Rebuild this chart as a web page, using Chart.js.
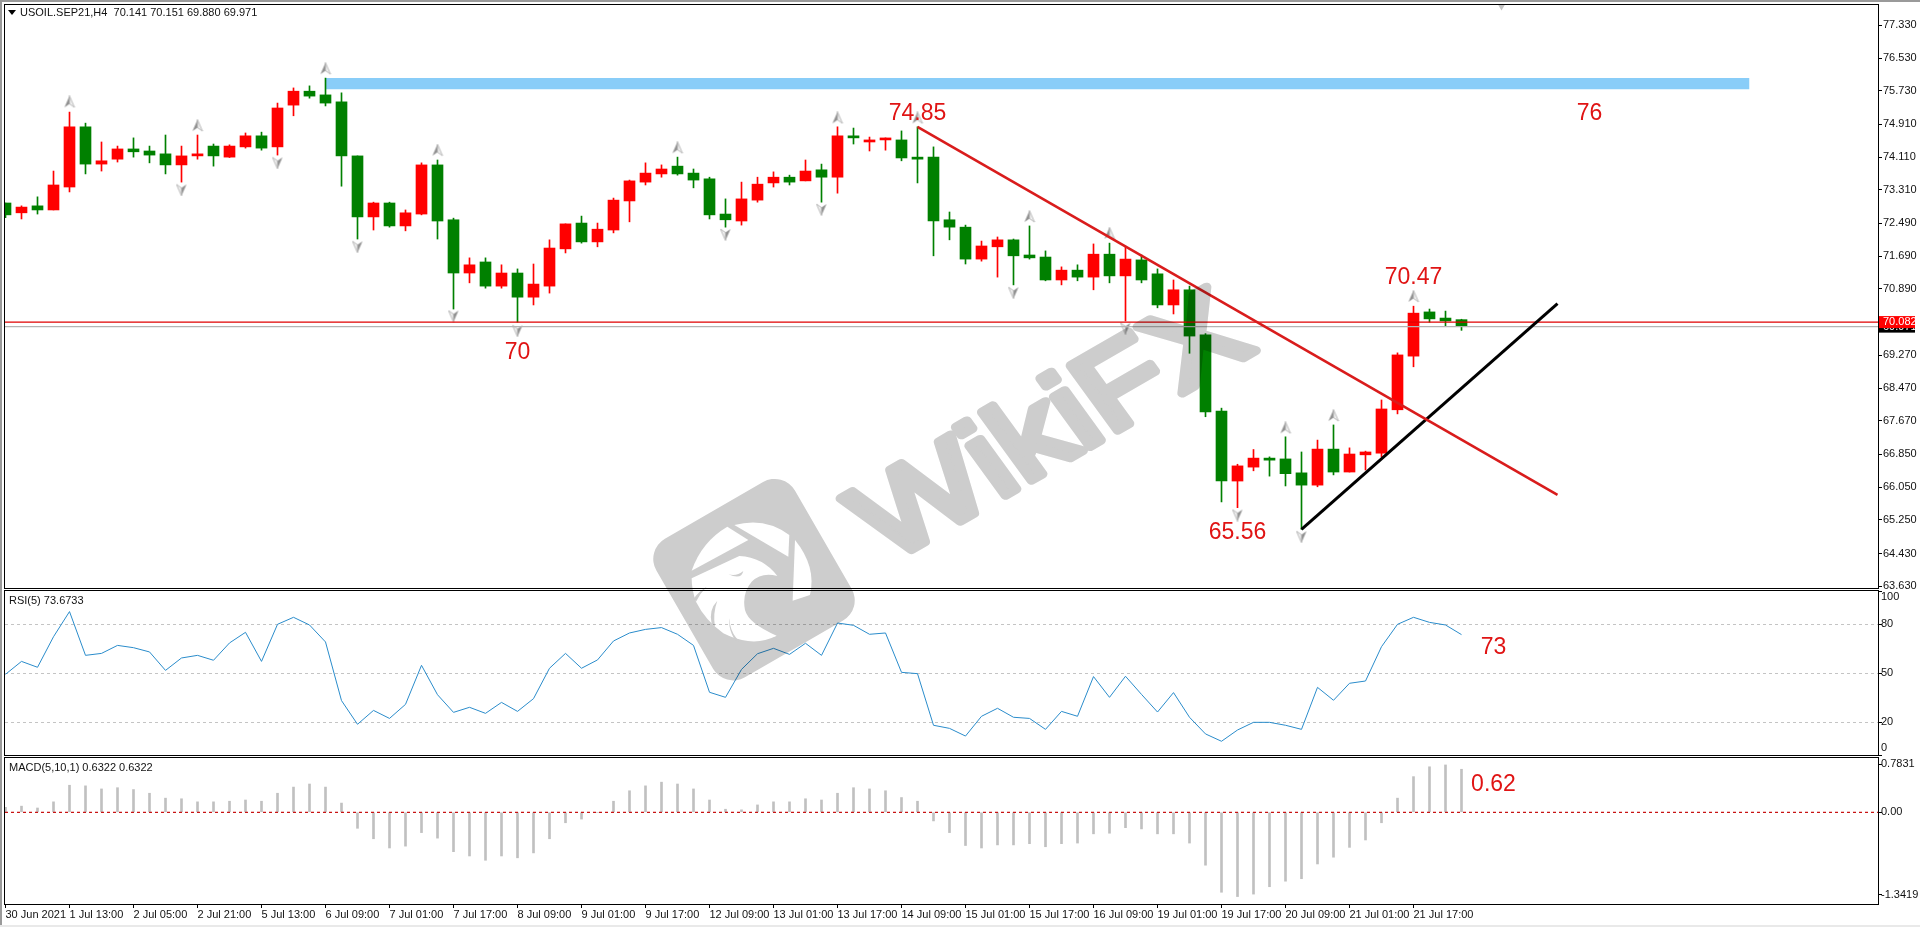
<!DOCTYPE html>
<html>
<head>
<meta charset="utf-8">
<title>USOIL.SEP21,H4</title>
<script src="https://cdn.jsdelivr.net/npm/chart.js@4/dist/chart.umd.min.js"></script>
<style>
    html, body { margin: 0; padding: 0; width: 1920px; height: 927px; overflow: hidden; background: #ffffff; }
    canvas { position: absolute; left: 0; }
    #priceChart { top: 0; }
    #rsiChart { top: 589px; }
    #macdChart { top: 756px; }
    .edge { position: absolute; }
    #edgeTop { left: 0; top: 0; width: 1920px; height: 2px; background: #9a9a9a; }
    #edgeLeft { left: 0; top: 0; width: 2px; height: 927px; background: #9a9a9a; }
    #edgeBottom { left: 0; top: 925px; width: 1920px; height: 2px; background: #e9e9e9; }
    .caption { position: absolute; font: 11px "Liberation Sans Narrow", "Liberation Sans", sans-serif; color: #111; white-space: pre; line-height: 12px; }
    #captionArrow { position: absolute; left: 8px; top: 10px; width: 0; height: 0; border-left: 4px solid transparent; border-right: 4px solid transparent; border-top: 5px solid #000; }
    #watermark { position: absolute; left: 0; top: 0; mix-blend-mode: multiply; pointer-events: none; }
</style>
</head>
<body>
<canvas id="priceChart" width="1920" height="592"></canvas>
<canvas id="rsiChart" width="1920" height="170"></canvas>
<canvas id="macdChart" width="1920" height="171"></canvas>

<div id="captionArrow"></div>
<div class="caption" style="left:20px;top:6px">USOIL.SEP21,H4  70.141 70.151 69.880 69.971</div>
<div class="caption" style="left:9px;top:594px">RSI(5) 73.6733</div>
<div class="caption" style="left:9px;top:761px">MACD(5,10,1) 0.6322 0.6322</div>

<svg id="watermark" width="1920" height="927" viewBox="0 0 1920 927">
    <text transform="translate(887.5 563.5) rotate(-30) skewX(6)" textLength="428" lengthAdjust="spacingAndGlyphs"
          font-family="Liberation Sans" font-size="116" fill="#cdcdcd" stroke="#cdcdcd"
          stroke-width="9" stroke-linejoin="round" stroke-linecap="round">WikiFX</text>
    <g transform="translate(640 470) scale(0.3333)">
        <rect x="102" y="89" width="480" height="480" rx="70" transform="rotate(-30 342 329)" fill="#cdcdcd"/>
        <path fill="#fff" d="M262 170 L325 210 L155 302 Q185 215 262 170 Z"/>
        <path fill="#fff" d="M283 165 Q375 140 448 195 L445 260 Z"/>
        <path fill="#fff" d="M465 210 Q530 290 510 375 L458 392 Z"/>
        <path fill="#fff" d="M155 325 L298 258 Q370 262 412 318 Q365 305 335 335 Q305 370 315 420 Q325 460 410 497 Q340 535 250 490 Q195 450 168 395 Q155 360 155 325 Z"/>
        <path fill="#cdcdcd" d="M232 392 Q205 420 215 462 L225 470 Q218 430 232 392 Z"/>
        <path fill="#cdcdcd" d="M268 445 Q270 490 300 515 L285 510 Q265 480 268 445 Z"/>
        <path fill="#cdcdcd" d="M200 350 Q175 365 162 385 L168 395 Q180 370 200 350 Z"/>
        <path fill="#cdcdcd" d="M265 313 Q290 320 310 303 Q305 330 265 313 Z"/>
    </g>
</svg>

<div class="edge" id="edgeTop"></div>
<div class="edge" id="edgeLeft"></div>
<div class="edge" id="edgeBottom"></div>

<script>
// =========================================
// Data
// =========================================
const opens = [
    72.99, 72.75, 72.92, 72.82, 73.38, 74.85, 73.94, 74.06, 74.31, 74.26,
    74.19, 73.92, 74.14, 74.38, 74.11, 74.36, 74.63, 74.36, 75.38, 75.72,
    75.63, 75.46, 74.14, 72.65, 72.99, 72.43, 72.72, 73.92, 72.58, 71.28,
    71.55, 70.96, 71.28, 70.69, 70.96, 71.87, 72.50, 72.04, 72.33, 73.04,
    73.50, 73.70, 73.89, 73.72, 73.58, 72.72, 72.55, 73.06, 73.48, 73.62,
    73.53, 73.80, 73.62, 74.63, 74.48, 74.53, 74.53, 74.11, 74.11, 72.58,
    72.40, 71.62, 71.92, 72.09, 71.72, 71.67, 71.11, 71.35, 71.18, 71.74,
    71.21, 71.60, 71.26, 70.50, 70.87, 69.77, 67.91, 66.20, 66.54, 66.76,
    66.74, 66.40, 66.10, 66.98, 66.42, 66.84, 66.88, 67.94, 69.25, 70.33,
    70.18, 70.141,
];
const highs = [
    72.99, 72.92, 73.14, 73.77, 75.21, 74.94, 74.48, 74.38, 74.58, 74.38,
    74.65, 74.38, 74.65, 74.43, 74.41, 74.70, 74.72, 75.43, 75.80, 75.85,
    76.04, 75.68, 74.14, 73.01, 73.01, 72.82, 73.97, 74.04, 72.62, 71.65,
    71.65, 71.48, 71.38, 71.50, 72.09, 72.48, 72.67, 72.50, 73.11, 73.55,
    73.97, 73.92, 74.11, 73.82, 73.62, 73.09, 73.50, 73.62, 73.75, 73.67,
    74.04, 73.94, 74.85, 74.82, 74.60, 74.58, 74.75, 74.85, 74.36, 72.77,
    72.45, 72.06, 72.16, 72.11, 72.43, 71.82, 71.43, 71.48, 71.99, 72.01,
    71.92, 71.72, 71.38, 71.11, 70.96, 69.80, 67.98, 66.61, 66.97, 66.79,
    67.28, 66.91, 67.20, 67.57, 67.01, 66.93, 68.18, 69.33, 70.47, 70.40,
    70.35, 70.151,
];
const lows = [
    72.63, 72.60, 72.72, 72.82, 73.26, 73.70, 73.77, 73.99, 74.11, 73.97,
    73.70, 73.50, 74.06, 73.89, 74.10, 74.33, 74.28, 74.16, 75.12, 75.55,
    75.36, 73.40, 72.11, 72.33, 72.40, 72.31, 72.70, 72.11, 70.40, 71.04,
    70.91, 70.91, 70.08, 70.50, 70.79, 71.77, 72.01, 71.92, 72.26, 72.53,
    73.43, 73.62, 73.67, 73.36, 72.60, 72.40, 72.45, 73.01, 73.38, 73.43,
    73.53, 73.01, 73.23, 74.43, 74.26, 74.28, 74.02, 73.48, 71.70, 72.09,
    71.50, 71.57, 71.18, 70.99, 71.62, 71.09, 70.99, 71.09, 70.87, 71.04,
    70.11, 71.04, 70.43, 70.28, 69.32, 67.77, 65.69, 65.55, 66.45, 66.32,
    66.08, 65.02, 66.06, 66.35, 66.42, 66.47, 66.79, 67.84, 68.99, 70.08,
    69.99, 69.88,
];
const closes = [
    72.70, 72.89, 72.82, 73.43, 74.85, 73.94, 74.02, 74.31, 74.24, 74.16,
    73.92, 74.14, 74.19, 74.14, 74.38, 74.63, 74.33, 75.31, 75.72, 75.60,
    75.43, 74.14, 72.65, 72.99, 72.43, 72.75, 73.92, 72.55, 71.28, 71.48,
    70.96, 71.28, 70.69, 71.01, 71.89, 72.48, 72.04, 72.35, 73.06, 73.53,
    73.72, 73.82, 73.70, 73.55, 72.70, 72.58, 73.09, 73.45, 73.62, 73.50,
    73.77, 73.62, 74.63, 74.58, 74.53, 74.55, 74.09, 74.06, 72.55, 72.40,
    71.62, 71.94, 72.09, 71.70, 71.65, 71.11, 71.35, 71.18, 71.74, 71.21,
    71.62, 71.11, 70.50, 70.87, 69.74, 67.89, 66.20, 66.57, 66.76, 66.71,
    66.38, 66.10, 66.98, 66.42, 66.86, 66.91, 67.96, 69.28, 70.30, 70.16,
    70.11, 69.971,
];

const rsiValues = [
    49.4, 57.3, 53.7, 72.4, 87.8, 61.0, 62.2, 67.1, 65.7, 63.1,
    51.8, 59.4, 61.0, 58.0, 68.6, 75.1, 57.3, 80.0, 84.3, 79.6,
    69.2, 33.3, 18.8, 27.3, 22.4, 31.0, 54.9, 36.9, 26.1, 29.2,
    25.5, 32.2, 26.7, 34.5, 53.1, 62.2, 53.1, 58.2, 69.8, 74.7,
    76.9, 78.0, 73.9, 67.1, 38.4, 35.3, 52.4, 62.0, 65.3, 61.6,
    68.4, 61.0, 80.8, 79.4, 73.9, 74.7, 50.6, 49.8, 18.2, 16.3,
    11.6, 23.7, 28.6, 23.1, 22.4, 15.7, 26.7, 23.7, 48.0, 35.3,
    48.2, 37.1, 26.3, 38.2, 23.1, 12.9, 8.4, 15.3, 20.0, 20.0,
    18.2, 15.7, 41.4, 33.5, 43.9, 45.3, 66.3, 80.0, 84.3, 81.2,
    79.6, 73.7,
];

const macdValues = [
    0.08, 0.10, 0.07, 0.17, 0.44, 0.43, 0.38, 0.40, 0.37, 0.31,
    0.23, 0.22, 0.17, 0.17, 0.18, 0.20, 0.18, 0.31, 0.41, 0.46,
    0.41, 0.15, -0.26, -0.43, -0.58, -0.55, -0.33, -0.42, -0.64, -0.71,
    -0.78, -0.71, -0.74, -0.66, -0.43, -0.17, -0.11, 0.00, 0.18, 0.35,
    0.43, 0.49, 0.46, 0.38, 0.20, 0.05, 0.04, 0.12, 0.17, 0.17,
    0.22, 0.20, 0.31, 0.40, 0.38, 0.35, 0.24, 0.18, -0.14, -0.33,
    -0.54, -0.58, -0.53, -0.53, -0.51, -0.56, -0.51, -0.50, -0.35, -0.34,
    -0.25, -0.27, -0.35, -0.35, -0.50, -0.86, -1.30, -1.37, -1.33, -1.21,
    -1.12, -1.08, -0.84, -0.73, -0.57, -0.45, -0.17, 0.23, 0.58, 0.74,
    0.77, 0.70,
];

const timeLabels = [
    "30 Jun 2021", "1 Jul 13:00", "2 Jul 05:00", "2 Jul 21:00", "5 Jul 13:00", "6 Jul 09:00",
    "7 Jul 01:00", "7 Jul 17:00", "8 Jul 09:00", "9 Jul 01:00", "9 Jul 17:00", "12 Jul 09:00",
    "13 Jul 01:00", "13 Jul 17:00", "14 Jul 09:00", "15 Jul 01:00", "15 Jul 17:00", "16 Jul 09:00",
    "19 Jul 01:00", "19 Jul 17:00", "20 Jul 09:00", "21 Jul 01:00", "21 Jul 17:00",
];
const priceTicks = [
    77.33, 76.53, 75.73, 74.91, 74.11, 73.31, 72.49, 71.69, 70.89,
    69.27, 68.47, 67.67, 66.85, 66.05, 65.25, 64.43, 63.63,
];
const rsiTicks = [100, 80, 50, 20, 0];
const macdTicks = [0.7831, 0, -1.3419];

// fractal arrows, bar number and price
const upBars = [4, 12, 20, 27, 42, 52, 57, 64, 69, 80, 83, 88];
const upPrices = [75.46, 74.88, 76.27, 74.28, 74.34, 75.07, 75.07, 72.66, 72.25, 67.50, 67.80, 70.71];
const downBars = [11, 17, 22, 28, 32, 45, 51, 63, 70, 77, 81];
const downPrices = [73.31, 73.97, 71.92, 70.23, 69.87, 72.22, 72.83, 70.80, 69.93, 65.37, 64.84];

// objects drawn on the chart
const zoneBars = [20, 109];
const zonePrices = [76.04, 75.77];
const redTrendBars = [57, 97];
const redTrendPrices = [74.85, 65.86];
const blackTrendBars = [81, 97];
const blackTrendPrices = [65.02, 70.53];
const bidPrice = 70.082;
const lastPrice = 69.971;

// =========================================
// Shared settings
// =========================================
const AXIS_FONT = { family: "'Liberation Sans Narrow', 'Liberation Sans', sans-serif", size: 11 };
const NOTE_FONT = "23px 'Liberation Sans', sans-serif";
const NOTE_COLOR = "#e01414";
const X_MIN = -0.03125;
const X_MAX = 117.03125;
const UP_COLOR = "#ff0000";
const DOWN_COLOR = "#008000";

function barColors() {
    return closes.map((c, i) => (c >= opens[i] ? UP_COLOR : DOWN_COLOR));
}

function hLine(value, color, dash, width) {
    return {
        type: "line",
        data: [{ x: X_MIN, y: value }, { x: X_MAX, y: value }],
        borderColor: color,
        borderWidth: width || 1,
        borderDash: dash || [],
        pointRadius: 0,
        order: 1,
    };
}

function trend(bars, prices, color, width) {
    return {
        type: "line",
        data: bars.map((b, i) => ({ x: b, y: prices[i] })),
        borderColor: color,
        borderWidth: width,
        pointRadius: 0,
        order: 0,
    };
}

function makeArrow(up) {
    const c = document.createElement("canvas");
    c.width = 12;
    c.height = 13;
    const g = c.getContext("2d");
    if (!up) {
        g.translate(12, 13);
        g.rotate(Math.PI);
    }
    g.fillStyle = "#8f8f8f";
    g.beginPath();
    g.moveTo(6, 0.5);
    g.lineTo(1, 12);
    g.lineTo(6, 8.5);
    g.closePath();
    g.fill();
    g.fillStyle = "#f2f2f2";
    g.strokeStyle = "#aaaaaa";
    g.lineWidth = 0.8;
    g.beginPath();
    g.moveTo(6, 0.5);
    g.lineTo(11, 12);
    g.lineTo(6, 8.5);
    g.closePath();
    g.fill();
    g.stroke();
    return c;
}

function arrows(bars, prices, up) {
    return {
        type: "line",
        showLine: false,
        data: bars.map((b, i) => ({ x: b, y: prices[i] })),
        pointStyle: makeArrow(up),
        pointRadius: 7,
        order: 2,
    };
}

function xAxis(show) {
    return {
        type: "linear",
        display: show,
        offset: false,
        min: X_MIN,
        max: X_MAX,
        border: { display: false },
        grid: { drawOnChartArea: false, drawTicks: true, tickLength: 4, tickColor: "#000000", offset: false },
        ticks: {
            autoSkip: false,
            maxRotation: 0,
            minRotation: 0,
            align: "start",
            padding: 0,
            color: "#111111",
            font: AXIS_FONT,
            callback: (value) => timeLabels[value / 4],
        },
        afterBuildTicks(scale) {
            scale.ticks = timeLabels.map((t, i) => ({ value: i * 4 }));
        },
        afterFit(scale) {
            if (show) {
                scale.height = 23;
            }
            scale.paddingLeft = 0;
            scale.paddingRight = 0;
        },
    };
}

function yAxis(min, max, tickValues, format, padding, gridExtra) {
    return {
        type: "linear",
        position: "right",
        min: min,
        max: max,
        border: Object.assign({ display: false }, gridExtra ? gridExtra.border : {}),
        grid: Object.assign(
            { drawOnChartArea: false, drawTicks: true, tickLength: 4, tickColor: "#000000" },
            gridExtra ? gridExtra.grid : {}
        ),
        ticks: {
            autoSkip: false,
            padding: padding,
            color: "#111111",
            font: AXIS_FONT,
            callback: format,
        },
        afterBuildTicks(scale) {
            scale.ticks = tickValues.map((v) => ({ value: v }));
        },
        afterFit(scale) {
            scale.width = 42;
            scale.paddingTop = 0;
            scale.paddingBottom = 0;
        },
    };
}

const framePlugin = {
    id: "frame",
    afterDraw(chart) {
        const { ctx, chartArea: a } = chart;
        ctx.save();
        ctx.strokeStyle = "#000000";
        ctx.lineWidth = 1;
        ctx.strokeRect(a.left - 0.5, a.top - 0.5, a.right - a.left + 1, a.bottom - a.top + 1);
        ctx.restore();
    },
};

function notesPlugin(items) {
    return {
        id: "notes",
        afterDraw(chart) {
            const { ctx, scales } = chart;
            ctx.save();
            ctx.font = NOTE_FONT;
            ctx.fillStyle = NOTE_COLOR;
            ctx.textAlign = "center";
            ctx.textBaseline = "middle";
            items.forEach((n) => {
                ctx.fillText(n.text, scales.x.getPixelForValue(n.bar), scales.y.getPixelForValue(n.value) + 2);
            });
            ctx.restore();
        },
    };
}

const priceTagPlugin = {
    id: "priceTags",
    afterDraw(chart) {
        const { ctx, scales } = chart;
        const tag = (value, bg, text) => {
            const y = scales.y.getPixelForValue(value);
            ctx.fillStyle = bg;
            ctx.fillRect(1879, y - 6, 36, 12);
            ctx.fillStyle = "#ffffff";
            ctx.fillText(text, 1883, y);
        };
        ctx.save();
        ctx.font = "11px " + AXIS_FONT.family;
        ctx.textBaseline = "middle";
        tag(lastPrice, "#000000", lastPrice.toFixed(3));
        tag(bidPrice, "#ff0000", bidPrice.toFixed(3));
        ctx.restore();
    },
};

// the 100 and 0 labels sit inside the panel, not on their ticks
const rsiEdgeLabels = {
    id: "rsiEdgeLabels",
    afterDraw(chart) {
        const { ctx, chartArea: a } = chart;
        ctx.save();
        ctx.font = "11px " + AXIS_FONT.family;
        ctx.fillStyle = "#111111";
        ctx.textBaseline = "middle";
        ctx.fillText("100", 1881, a.top + 6);
        ctx.fillText("0", 1881, a.bottom - 7);
        ctx.restore();
    },
};

const baseOptions = {
    responsive: false,
    devicePixelRatio: 1,
    animation: false,
    events: [],
    plugins: { legend: { display: false }, tooltip: { enabled: false } },
};

// =========================================
// Price panel
// =========================================
new Chart(document.getElementById("priceChart"), {
    type: "bar",
    data: {
        datasets: [
            {
                // blue zone, top edge filled down to the bottom edge
                type: "line",
                data: zoneBars.map((b) => ({ x: b, y: zonePrices[0] })),
                borderWidth: 0,
                pointRadius: 0,
                backgroundColor: "#89cdf8",
                fill: "+1",
                order: 6,
            },
            {
                type: "line",
                data: zoneBars.map((b) => ({ x: b, y: zonePrices[1] })),
                borderWidth: 0,
                pointRadius: 0,
                order: 6,
            },
            {
                data: highs.map((h, i) => ({ x: i, y: [lows[i], h] })),
                backgroundColor: barColors(),
                barThickness: 1,
                grouped: false,
                order: 5,
            },
            {
                data: opens.map((o, i) => ({ x: i, y: [o, closes[i]] })),
                backgroundColor: barColors(),
                barThickness: 11,
                grouped: false,
                minBarLength: 2,
                order: 4,
            },
            hLine(lastPrice, "#b4b4b4", null, 1.2),
            hLine(bidPrice, "#e00000", null, 1.3),
            trend(redTrendBars, redTrendPrices, "#d91c1c", 2.6),
            trend(blackTrendBars, blackTrendPrices, "#000000", 3),
            arrows(upBars, upPrices, true),
            arrows(downBars, downPrices, false),
            {
                // clipped marker at the top edge of the panel
                type: "line",
                showLine: false,
                data: [{ x: 93.5, y: 77.81 }],
                pointStyle: "triangle",
                pointRotation: 180,
                pointRadius: 5,
                pointBorderWidth: 0,
                pointBackgroundColor: "#c4c4c4",
                order: 2,
            },
        ],
    },
    options: Object.assign({}, baseOptions, {
        layout: { autoPadding: false, padding: { left: 5, top: 5, right: 0, bottom: 4 } },
        scales: {
            x: xAxis(false),
            y: yAxis(63.588, 77.825, priceTicks, (v) => v.toFixed(3), 1),
        },
    }),
    plugins: [
        framePlugin,
        priceTagPlugin,
        notesPlugin([
            { text: "74.85", bar: 57, value: 75.22 },
            { text: "76", bar: 99, value: 75.22 },
            { text: "70", bar: 32, value: 69.39 },
            { text: "65.56", bar: 77, value: 65.0 },
            { text: "70.47", bar: 88, value: 71.22 },
        ]),
    ],
});

// =========================================
// RSI panel
// =========================================
new Chart(document.getElementById("rsiChart"), {
    type: "line",
    data: {
        datasets: [
            {
                data: rsiValues.map((v, i) => ({ x: i, y: v })),
                borderColor: "#2a8ccb",
                borderWidth: 1,
                pointRadius: 0,
            },
        ],
    },
    options: Object.assign({}, baseOptions, {
        layout: { autoPadding: false, padding: { left: 5, top: 2, right: 0, bottom: 4 } },
        scales: {
            x: xAxis(false),
            y: yAxis(0, 100.4, rsiTicks, (v) => (v === 100 || v === 0 ? "" : String(v)), -1, {
                border: { dash: [3, 3] },
                grid: {
                    drawOnChartArea: true,
                    color: (ctx) => ([80, 50, 20].includes(ctx.tick.value) ? "#c4c4c4" : "rgba(0,0,0,0)"),
                },
            }),
        },
    }),
    plugins: [framePlugin, rsiEdgeLabels, notesPlugin([{ text: "73", bar: 93, value: 66.7 }])],
});

// =========================================
// MACD panel
// =========================================
new Chart(document.getElementById("macdChart"), {
    type: "bar",
    data: {
        datasets: [
            {
                data: macdValues.map((v, i) => ({ x: i, y: v })),
                backgroundColor: "#c0c0c0",
                barThickness: 2,
                order: 2,
            },
            hLine(0, "#c81414", [3, 3], 1.2),
        ],
    },
    options: Object.assign({}, baseOptions, {
        layout: { autoPadding: false, padding: { left: 5, top: 2, right: 0, bottom: 0 } },
        scales: {
            x: xAxis(true),
            y: yAxis(-1.491, 0.883, macdTicks, (v) => (v === 0 ? "0.00" : String(v)), -1),
        },
    }),
    plugins: [framePlugin, notesPlugin([{ text: "0.62", bar: 93, value: 0.49 }])],
});
</script>
</body>
</html>
